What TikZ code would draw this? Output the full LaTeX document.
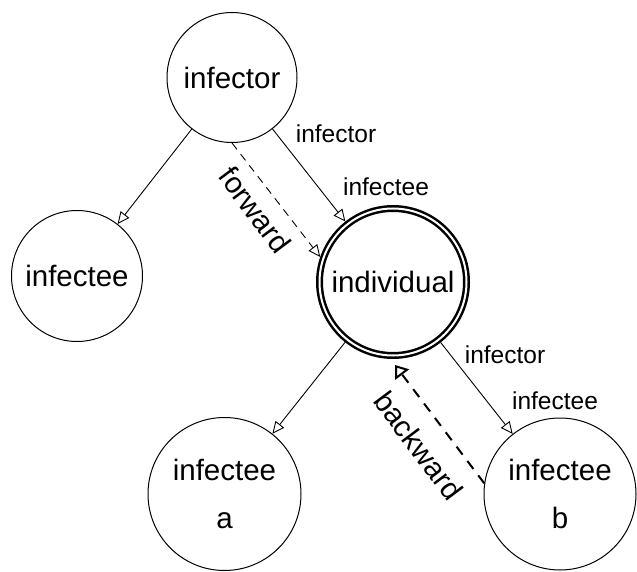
\documentclass[tikz,border=0pt]{standalone}
\usepackage{fontspec}
\setmainfont{Liberation Sans}
\usetikzlibrary{arrows.meta}
\newcommand\fbigtext{\fontsize{29.5}{48.7}\selectfont}
\newcommand\fsmalltext{\fontsize{24.5}{29}\selectfont}
\tikzset{
  person/.style={circle, draw, line width=1pt, inner sep=2pt, font=\fbigtext, align=center},
  edgearrow/.style={line width=0.9pt, -{Triangle[open, length=12pt, width=11pt]}},
  fwdarrow/.style={line width=0.9pt, dash pattern=on 8pt off 6pt, -{Triangle[open, length=12pt, width=11pt]}},
  bwdarrow/.style={line width=2pt, dash pattern=on 10pt off 8pt, -{Triangle[open, length=12pt, width=17pt]}},
  rolelabel/.style={font=\fsmalltext, inner sep=0pt},
  dirlabel/.style={font=\fbigtext, inner sep=0pt}
}
\begin{document}
\begin{tikzpicture}[x=1pt, y=-1pt]
\useasboundingbox (0,0) rectangle (637,572);
% nodes
\node[person, minimum size=130pt] (infector) at (232,77.5) {infector};
\node[person, minimum size=131pt] (left) at (77,276) {infectee};
\node[circle, draw, line width=2.5pt, double, double distance=2pt, minimum size=147pt,
      outer sep=3.5pt, inner sep=2pt, font=\fbigtext] (ind) at (393,282) {individual};
\node[person, minimum size=153pt] (a) at (224.5,494) {infectee\\a};
\node[person, minimum size=152pt] (b) at (560,494) {infectee\\b};
% solid edges
\draw[edgearrow] (infector) -- (left);
\draw[edgearrow] (infector) -- (ind);
\draw[edgearrow] (ind) -- (a);
\draw[edgearrow] (ind) -- (b);
% forward / backward
\draw[fwdarrow] (infector.south) -- (ind.161);
\coordinate (bwdtip) at (395,365);
\draw[bwdarrow] (b.172) -- (bwdtip);
% labels
\node[rolelabel] (l1) at (336,134) {infector};
\node[rolelabel] (l2) at (386,187) {infectee};
\node[rolelabel] (l3) at (505,355) {infector};
\node[rolelabel] (l4) at (555,401) {infectee};
\node[dirlabel, rotate=-53.2] (fw) at (255,210) {forward};
\node[dirlabel, rotate=-53.1] (bw) at (418.5,445.5) {backward};
\end{tikzpicture}
\end{document}
